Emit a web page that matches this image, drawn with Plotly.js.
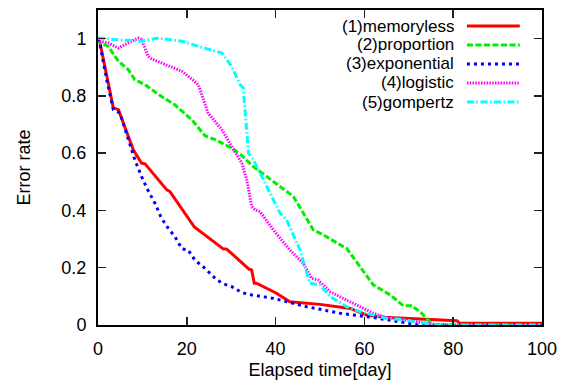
<!DOCTYPE html>
<html>
<head>
<meta charset="utf-8">
<script src="https://cdn.plot.ly/plotly-3.0.1.min.js"></script>
<style>html,body{margin:0;padding:0;background:#fff;}#chart{width:565px;height:383px;}</style>
</head>
<body>
<div id="chart"></div>
<script>
// Series names
var seriesNames = ["(1)memoryless", "(2)proportion", "(3)exponential", "(4)logistic", "(5)gompertz"];

// (1) memoryless
var memoryX = [0,0.45,3.45,4.6,7.95,9.8,10.6,15.5,16.2,21.7,28.2,29,34,34.6,35.2,35.7,40.2,41.4,43.2,50,56.8,60.5,64.3,80.8,81.5,100];
var memoryY = [1,0.986,0.758,0.752,0.612,0.565,0.563,0.472,0.466,0.342,0.266,0.265,0.195,0.192,0.146,0.146,0.111,0.099,0.081,0.072,0.058,0.035,0.027,0.015,0.006,0.006];

// (2) proportion
var propX = [0,0.45,2.3,4.6,6.8,8.3,10.6,14.3,17.3,21.1,24.1,26.4,30.1,32.4,35,38,43.2,44,48.5,50.7,55.2,56,59,62,65.8,68.8,70.6,72.5,74.4,75.5,100];
var propY = [1,0.985,0.973,0.921,0.892,0.857,0.839,0.798,0.769,0.717,0.661,0.647,0.618,0.591,0.553,0.519,0.460,0.449,0.332,0.315,0.274,0.268,0.204,0.140,0.105,0.067,0.067,0.047,0.017,0,0];

// (3) exponential
var expX = [0,0.45,1.96,3.45,4.95,6.8,8.3,9.8,11,12.8,14.3,15.8,17.3,18.9,20.3,21.8,24.1,26.4,27.9,30.1,32.4,34.6,39.5,47,54.5,62,68,72.5,100];
var expY = [1,0.979,0.857,0.752,0.740,0.647,0.577,0.519,0.478,0.426,0.373,0.338,0.309,0.266,0.262,0.227,0.198,0.163,0.146,0.134,0.113,0.105,0.093,0.064,0.041,0.026,0.01,0,0];

// (4) logistic
var logX = [0,0.45,2.3,4.6,6.8,9.1,9.8,11.3,12.1,17.3,18.9,22.2,22.6,24.8,27.9,30.1,32.4,33.5,34.6,35.4,36.5,39.5,43.2,46.2,48.1,49.6,52.3,56,59,62,65,68,72.5,77,100];
var logY = [1,0.991,0.985,0.967,0.985,1.002,0.997,0.938,0.929,0.898,0.886,0.845,0.839,0.740,0.682,0.624,0.565,0.507,0.414,0.402,0.396,0.332,0.262,0.216,0.163,0.157,0.116,0.087,0.064,0.041,0.026,0.020,0.01,0,0];

// (5) gompertz
var gompX = [0,0.45,3.8,9.8,13.6,18.9,22.6,27.9,30.1,32,32.7,33.9,35,38,41,42.5,45.5,47.7,50,52.3,56,59,62,65,68,72.5,76,100];
var gompY = [1,1.002,0.997,0.991,1.002,0.991,0.973,0.950,0.903,0.839,0.828,0.600,0.577,0.484,0.391,0.367,0.262,0.146,0.140,0.099,0.064,0.047,0.035,0.023,0.020,0.01,0,0];

// Tick labels
var xTickVals = [0,20,40,60,80,100];
var xTickText = ["0","20","40","60","80","100"];
var yTickVals = [0,0.2,0.4,0.6,0.8,1];
var yTickText = ["0","0.2","0.4","0.6","0.8","1"];

var colors = ["#ff0000","#00ee00","#0000ff","#ff00ff","#00ffff"];
var dashes = ["solid","6px,2.5px","3px,4px","1.5px,1.3px","7px,2.5px,1.5px,2.5px"];
var xs = [memoryX, propX, expX, logX, gompX];
var ys = [memoryY, propY, expY, logY, gompY];

var font = "Liberation Sans, Arial, Helvetica, sans-serif";
var traces = [];
for (var i = 0; i < 5; i++) {
  traces.push({
    x: xs[i], y: ys[i], type: "scatter", mode: "lines", name: seriesNames[i],
    line: {color: colors[i], width: 3, dash: dashes[i]},
    showlegend: false, hoverinfo: "skip"
  });
}

// Legend drawn as annotations + sample line shapes (text left of sample, as in reference)
var legY = [0.9492, 0.8889, 0.8286, 0.7683, 0.7079];
var annotations = [], shapes = [];
for (var j = 0; j < 5; j++) {
  annotations.push({
    xref: "paper", yref: "paper", x: 0.804, y: legY[j], xanchor: "right", yanchor: "middle",
    text: seriesNames[j], showarrow: false, borderpad: 0,
    font: {family: font, size: 17, color: "#000"}
  });
  shapes.push({
    type: "line", xref: "paper", yref: "paper", x0: 0.831, x1: 0.950, y0: legY[j], y1: legY[j],
    line: {color: colors[j], width: 3, dash: dashes[j]}
  });
}

var axisCommon = {
  showline: true, linecolor: "#000", linewidth: 2, mirror: "allticks",
  ticks: "inside", ticklen: 8, tickwidth: 1.5, tickcolor: "#222",
  showgrid: false, zeroline: false, automargin: false,
  tickfont: {family: font, size: 18, color: "#000"}
};

var layout = {
  width: 565, height: 383,
  margin: {l: 98, r: 23, t: 10, b: 58},
  paper_bgcolor: "#fff", plot_bgcolor: "#fff",
  font: {family: font, size: 18, color: "#000"},
  xaxis: Object.assign({}, axisCommon, {
    range: [0, 100], tickmode: "array", tickvals: xTickVals, ticktext: xTickText,
    ticklabelstandoff: 6,
    title: {text: "Elapsed time[day]", font: {family: font, size: 18, color: "#000"}, standoff: 6}
  }),
  yaxis: Object.assign({}, axisCommon, {
    range: [0, 1.1], tickmode: "array", tickvals: yTickVals, ticktext: yTickText,
    ticklabelstandoff: 6,
    title: {text: "Error rate", font: {family: font, size: 18, color: "#000"}, standoff: 26}
  }),
  annotations: annotations,
  shapes: shapes,
  showlegend: false
};

Plotly.newPlot("chart", traces, layout, {staticPlot: true, displayModeBar: false});
</script>
</body>
</html>
